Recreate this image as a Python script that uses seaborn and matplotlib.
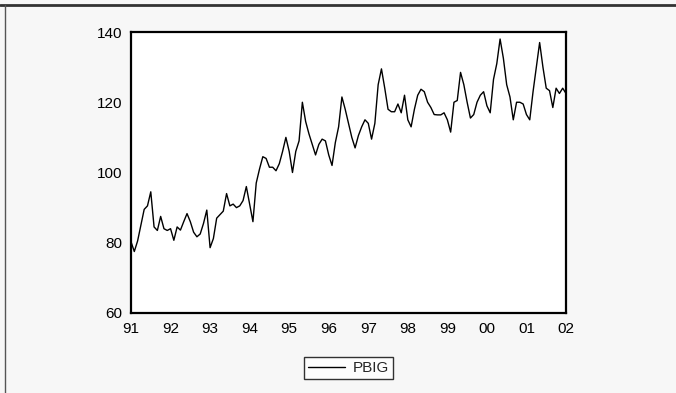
import numpy as np
import pandas as pd
import matplotlib
matplotlib.use("Agg")
import matplotlib.pyplot as plt
import seaborn as sns

# monthly values, 1991M01 .. 2002M01
pbig_1991 = [80.3, 77.5, 80.5, 85.0, 89.5, 90.5, 94.5, 84.5, 83.5, 87.5, 84.0, 83.5]
pbig_1992 = [84.0, 80.7, 84.5, 83.6, 86.0, 88.3, 86.0, 83.0, 81.7, 82.5, 85.5, 89.3]
pbig_1993 = [78.6, 81.2, 87.0, 88.0, 89.0, 94.0, 90.5, 91.0, 90.0, 90.5, 92.0, 96.0]
pbig_1994 = [91.0, 86.0, 97.0, 101.0, 104.5, 104.0, 101.5, 101.5, 100.5, 102.5, 106.0, 110.0]
pbig_1995 = [106.0, 100.0, 106.0, 109.0, 120.0, 114.5, 111.0, 108.0, 105.0, 108.0, 109.5, 109.0]
pbig_1996 = [105.0, 102.0, 108.5, 113.0, 121.5, 118.0, 114.0, 110.0, 107.0, 110.5, 113.0, 115.0]
pbig_1997 = [114.0, 109.5, 114.0, 125.0, 129.5, 124.0, 118.0, 117.3, 117.3, 119.5, 117.0, 122.0]
pbig_1998 = [115.0, 113.0, 118.0, 122.0, 123.7, 123.0, 120.0, 118.5, 116.5, 116.4, 116.4, 117.0]
pbig_1999 = [115.0, 111.5, 120.0, 120.5, 128.5, 125.0, 120.0, 115.5, 116.5, 120.0, 122.0, 123.0]
pbig_2000 = [119.0, 117.0, 126.5, 131.0, 138.0, 132.5, 125.0, 121.5, 115.0, 120.0, 120.0, 119.5]
pbig_2001 = [116.5, 115.0, 123.0, 130.0, 137.0, 130.0, 124.0, 123.3, 118.5, 124.0, 122.5, 124.0]
pbig_2002 = [122.5]

years = list(range(1991, 2003))
tick_labels = ["91", "92", "93", "94", "95", "96", "97", "98", "99", "00", "01", "02"]

values = (pbig_1991 + pbig_1992 + pbig_1993 + pbig_1994 + pbig_1995 + pbig_1996
          + pbig_1997 + pbig_1998 + pbig_1999 + pbig_2000 + pbig_2001 + pbig_2002)
df = pd.DataFrame({"t": 1991 + np.arange(len(values)) / 12.0, "PBIG": values})

sns.set_style("white")
plt.rcParams["font.family"] = ["Liberation Sans", "DejaVu Sans"]

fig = plt.figure(figsize=(6.76, 3.93), dpi=100, facecolor="#f7f7f7")
ax = fig.add_axes([131 / 676, 1 - 313 / 393, 435 / 676, 281 / 393])
ax.set_facecolor("white")

sns.lineplot(data=df, x="t", y="PBIG", ax=ax, color="black", linewidth=1.0, label="PBIG")

ax.set_xlim(1991, 2002)
ax.set_ylim(60, 140)
ax.set_xticks(years)
ax.set_xticklabels(tick_labels)
ax.set_yticks([60, 80, 100, 120, 140])
ax.set_xlabel("")
ax.set_ylabel("")
for s in ax.spines.values():
    s.set_color("black")
    s.set_linewidth(1.6)
ax.tick_params(axis="both", direction="out", length=4.5, width=1, color="black",
               labelsize=11, labelcolor="black", pad=2)

ax.legend(loc="center", bbox_to_anchor=(0.5, -0.196), frameon=True, fancybox=False,
          edgecolor="black", fontsize=11, handlelength=2.4, borderpad=0.25,
          handletextpad=0.5, borderaxespad=0)
ax.get_legend().get_frame().set_linewidth(1.0)

# outer frame lines at top and left of the picture
fig.add_artist(plt.Line2D([0, 1], [1 - 5 / 393, 1 - 5 / 393], color="#333333", linewidth=2))
fig.add_artist(plt.Line2D([5 / 676, 5 / 676], [0, 1 - 5 / 393], color="#555555", linewidth=1))

fig.savefig("out.png", dpi=100, facecolor=fig.get_facecolor())
